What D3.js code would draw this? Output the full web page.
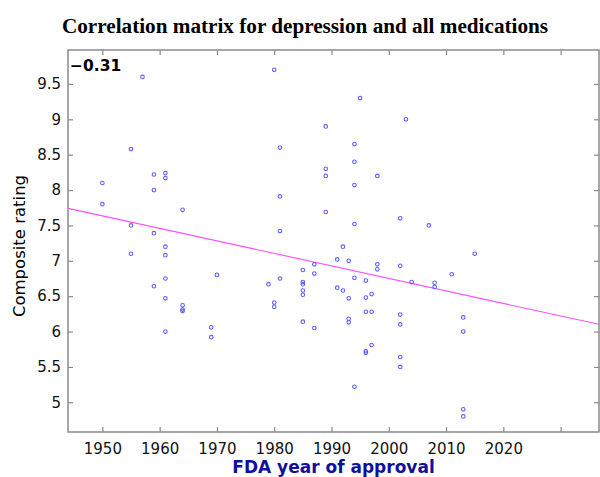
<!DOCTYPE html>
<html>
<head>
<meta charset="utf-8">
<script src="https://cdn.jsdelivr.net/npm/d3@7"></script>
<style>
  html, body { margin: 0; padding: 0; background: #fff; }
  svg { display: block; }
</style>
</head>
<body>
<svg id="chart" width="600" height="477"></svg>
<script>
// ---- Data ----
const years = [
  1957, 1955, 1959, 1961, 1961, 1950, 1959, 1950, 1964, 1955, 1959, 1961, 1955, 1961,
  1970, 1961, 1959, 1961, 1964, 1964, 1964, 1961, 1969, 1969,
  1980, 1995, 2003, 1989, 1981, 1994, 1994, 1989, 1989, 1998, 1994, 1981, 1989, 2002,
  1994, 1981, 2007, 1992, 1991, 1993, 1987, 1998, 1998, 2002, 1985, 1987, 2004, 1994,
  1996, 1981, 1979, 1985, 1985, 1985, 1985, 1991, 1992, 1997, 1996, 1993, 1980, 1980,
  1996, 1997, 2002, 1993, 1993, 1985, 2002, 1987, 1997, 1996, 1996, 2002, 2002, 1994,
  2015, 2011, 2008, 2008, 2013, 2013, 2013, 2013
];
const ratings = [
  9.60, 8.58, 8.22, 8.24, 8.17, 8.10, 8.00, 7.80, 7.72, 7.50, 7.39, 7.20, 7.10, 7.08,
  6.80, 6.75, 6.64, 6.47, 6.37, 6.31, 6.29, 6.00, 6.06, 5.92,
  9.70, 9.30, 9.00, 8.90, 8.60, 8.65, 8.40, 8.30, 8.20, 8.20, 8.07, 7.91, 7.69, 7.60,
  7.52, 7.42, 7.50, 7.20, 7.02, 7.00, 6.95, 6.95, 6.88, 6.93, 6.87, 6.82, 6.70, 6.76,
  6.72, 6.75, 6.67, 6.70, 6.67, 6.58, 6.52, 6.62, 6.58, 6.53, 6.48, 6.47, 6.41, 6.35,
  6.28, 6.28, 6.24, 6.18, 6.13, 6.14, 6.10, 6.05, 5.81, 5.72, 5.70, 5.64, 5.50, 5.22,
  7.10, 6.81, 6.69, 6.63, 6.20, 6.00, 4.90, 4.80
];
// fitted line endpoints
const fitYears = [1944, 2036.7];
const fitRatings = [7.742, 6.102];

const xTicks = [1950, 1960, 1970, 1980, 1990, 2000, 2010, 2020, 2030];
const xTickLabels = ["1950", "1960", "1970", "1980", "1990", "2000", "2010", "2020", ""];
const yTicks = [5, 5.5, 6, 6.5, 7, 7.5, 8, 8.5, 9, 9.5];
const yTickLabels = ["5", "5.5", "6", "6.5", "7", "7.5", "8", "8.5", "9", "9.5"];
const corrLabel = "\u22120.31";
const titleText = "Correlation matrix for depression and all medications";
const xTitle = "FDA year of approval";
const yTitle = "Composite rating";

// ---- Layout ----
const W = 600, H = 477;
const L = 68, R = 599, T = 50, B = 432;

const svg = d3.select("#chart");
const x = d3.scaleLinear().domain([1944, 2036.7]).range([L, R]);
const y = d3.scaleLinear().domain([4.58, 9.98]).range([B, T]);

const axisColor = "#8a8a8a";
const tickFont = "'DejaVu Sans', sans-serif";

// title
svg.append("text")
  .attr("x", 305).attr("y", 33)
  .attr("text-anchor", "middle")
  .attr("font-family", "'Liberation Serif', 'Times New Roman', serif")
  .attr("font-weight", "bold")
  .attr("font-size", 21.2)
  .attr("fill", "#000")
  .text(titleText);

// axes (inward ticks)
const xAxisB = d3.axisBottom(x).tickValues(xTicks)
  .tickFormat((d, i) => xTickLabels[i]).tickSizeInner(-5).tickSizeOuter(0).tickPadding(11);
const xAxisT = d3.axisTop(x).tickValues(xTicks)
  .tickFormat("").tickSizeInner(-5).tickSizeOuter(0);
const yAxisL = d3.axisLeft(y).tickValues(yTicks)
  .tickFormat((d, i) => yTickLabels[i]).tickSizeInner(-5).tickSizeOuter(0).tickPadding(7);
const yAxisR = d3.axisRight(y).tickValues(yTicks)
  .tickFormat("").tickSizeInner(-5).tickSizeOuter(0);

function styleAxis(g) {
  g.select(".domain").remove();
  g.selectAll(".tick line").attr("stroke", axisColor).attr("stroke-width", 1.2);
  g.selectAll(".tick text").attr("fill", "#111")
    .attr("font-family", tickFont).attr("font-size", 15);
}

svg.append("g").attr("transform", `translate(0,${B})`).call(xAxisB).call(styleAxis);
svg.append("g").attr("transform", `translate(0,${T})`).call(xAxisT).call(styleAxis);
svg.append("g").attr("transform", `translate(${L},0)`).call(yAxisL).call(styleAxis);
svg.append("g").attr("transform", `translate(${R},0)`).call(yAxisR).call(styleAxis);

// frame
svg.append("rect")
  .attr("x", L).attr("y", T).attr("width", R - L).attr("height", B - T)
  .attr("fill", "none").attr("stroke", axisColor).attr("stroke-width", 1.5);

// clip
svg.append("clipPath").attr("id", "clip")
  .append("rect").attr("x", L).attr("y", T).attr("width", R - L).attr("height", B - T);

// regression line
const fit = fitYears.map((d, i) => [d, fitRatings[i]]);
svg.append("path")
  .attr("clip-path", "url(#clip)")
  .attr("d", d3.line().x(d => x(d[0])).y(d => y(d[1]))(fit))
  .attr("fill", "none").attr("stroke", "#ff4cff").attr("stroke-width", 1.1);

// points
const pts = years.map((d, i) => ({ yr: d, v: ratings[i] }));
svg.append("g").selectAll("circle").data(pts).join("circle")
  .attr("cx", d => x(d.yr)).attr("cy", d => y(d.v)).attr("r", 1.8)
  .attr("fill", "none").attr("stroke", "#5f5fff").attr("stroke-width", 1.1);

// correlation label
svg.append("text")
  .attr("x", L + 2).attr("y", T + 21)
  .attr("font-family", tickFont).attr("font-weight", "bold")
  .attr("font-size", 15.5).attr("fill", "#000")
  .text(corrLabel);

// axis titles
svg.append("text")
  .attr("x", (L + R) / 2).attr("y", 473)
  .attr("text-anchor", "middle")
  .attr("font-family", tickFont).attr("font-weight", "bold")
  .attr("font-size", 17).attr("fill", "#10109a")
  .text(xTitle);

svg.append("text")
  .attr("transform", `translate(25,${246}) rotate(-90)`)
  .attr("text-anchor", "middle")
  .attr("font-family", tickFont)
  .attr("font-size", 16.5).attr("fill", "#000")
  .text(yTitle);
</script>
</body>
</html>
